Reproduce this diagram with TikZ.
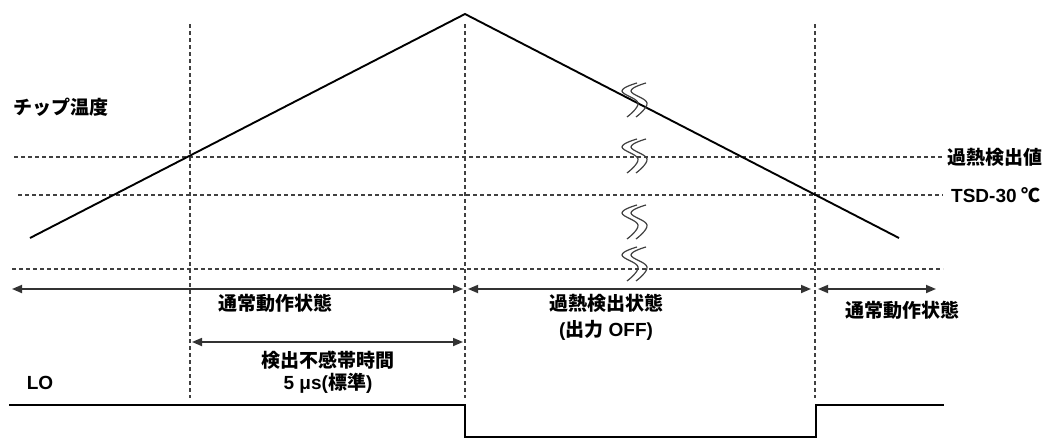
\documentclass[tikz,border=0pt]{standalone}
\usepackage{fontspec}
\setmainfont{Liberation Sans}
\newfontfamily\jpfont{Noto Sans CJK JP}[BoldFont={Noto Sans CJK JP Black}]
\usetikzlibrary{arrows.meta}

\begin{document}
\begin{tikzpicture}[x=1pt, y=-1pt,
		labelnode/.style={font=\fontsize{19}{22}\selectfont\bfseries, inner sep=0pt},
		guideline/.style={draw=black!75, line width=1.2pt, dash pattern=on 4pt off 3pt},
		spanarrow/.style={draw=black!80, line width=1.7pt, {Triangle[length=10pt,width=8pt]}-{Triangle[length=10pt,width=8pt]}},
		templine/.style={line width=1.9pt},
		breakmark/.style={draw=black!75, line width=1.2pt},
	]
	\useasboundingbox (0,0) rectangle (1045,439);

	%Coordinates
	\coordinate (t0) at (30,238);
	\coordinate (tpeak) at (465,14);
	\coordinate (t1) at (899,238);
	\coordinate (v1top) at (190,24);	\coordinate (v1bot) at (190,398);
	\coordinate (v2top) at (465,24);	\coordinate (v2bot) at (465,398);
	\coordinate (v3top) at (815,24);	\coordinate (v3bot) at (815,398);
	\coordinate (h1l) at (14,157);	\coordinate (h1r) at (943,157);
	\coordinate (h2l) at (18,195);	\coordinate (h2r) at (943,195);
	\coordinate (h3l) at (12,269);	\coordinate (h3r) at (943,269);
	\coordinate (a1l) at (12,289);	\coordinate (a1r) at (463,289);
	\coordinate (a2l) at (468,289);	\coordinate (a2r) at (811,289);
	\coordinate (a3l) at (818,289);	\coordinate (a3r) at (936,289);
	\coordinate (a4l) at (192,342);	\coordinate (a4r) at (463,342);
	\coordinate (s0) at (9,405);	\coordinate (s1) at (465,405);
	\coordinate (s2) at (465,437);	\coordinate (s3) at (816,437);
	\coordinate (s4) at (816,405);	\coordinate (s5) at (944,405);

	%Nodes
	\node[labelnode, anchor=west]	(chiptemp)	at (13,107)	{\jpfont チップ温度};
	\node[labelnode, anchor=west]	(detect)	at (947,157)	{\jpfont 過熱検出値};
	\node[labelnode, anchor=west]	(tsd)		at (951,195)	{TSD-30 {\jpfont ℃}};
	\node[labelnode]	(normalA)	at (275,303)	{\jpfont 通常動作状態};
	\node[labelnode]	(overheat)	at (606,303)	{\jpfont 過熱検出状態};
	\node[labelnode]	(outoff)	at (606,330)	{({\jpfont 出力} OFF)};
	\node[labelnode]	(normalB)	at (902,310)	{\jpfont 通常動作状態};
	\node[labelnode]	(deadband)	at (328,360)	{\jpfont 検出不感帯時間};
	\node[labelnode]	(deadtime)	at (328,383)	{5 μs({\jpfont 標準})};
	\node[labelnode]	(lo)		at (40,383)	{LO};

	%Guide lines
	\draw[guideline]	(v1top) -- (v1bot);
	\draw[guideline]	(v2top) -- (v2bot);
	\draw[guideline]	(v3top) -- (v3bot);
	\draw[guideline]	(h1l) -- (h1r);
	\draw[guideline]	(h2l) -- (h2r);
	\draw[guideline]	(h3l) -- (h3r);

	%Lines
	\draw[templine]	(t0) -- (tpeak) -- (t1);
	\draw[spanarrow]	(a1l) -- (a1r);
	\draw[spanarrow]	(a2l) -- (a2r);
	\draw[spanarrow]	(a3l) -- (a3r);
	\draw[spanarrow]	(a4l) -- (a4r);
	\draw[templine]	(s0) -- (s1) -- (s2) -- (s3) -- (s4) -- (s5);

	%Break marks
	\foreach \y in {100,156,222,264}
		\foreach \x in {627,636}
			\draw[breakmark] plot[smooth, tension=0.7] coordinates {(\x+10,\y-17) (\x-5,\y-9) (\x+11,\y+3) (\x,\y+17)};

\end{tikzpicture}
\end{document}
